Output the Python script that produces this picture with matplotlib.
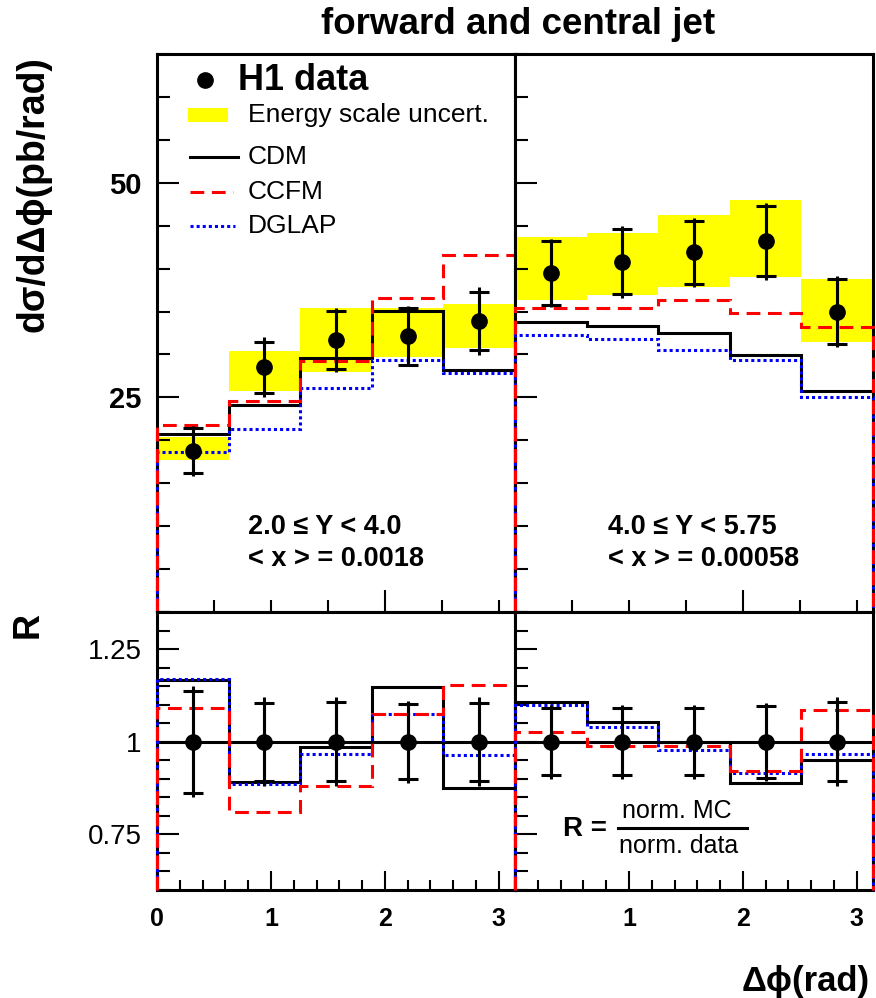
import numpy as np
import matplotlib.pyplot as plt
from matplotlib.patches import Rectangle
from matplotlib.ticker import FixedLocator, MultipleLocator, NullFormatter

plt.rcParams['font.family'] = ['Liberation Sans', 'DejaVu Sans']

# ---------- Data ----------
bin_edges = [0.0, 0.628, 1.257, 1.885, 2.513, 3.1416]

# 2.0 <= Y < 4.0
data_lo = [18.8, 28.5, 31.7, 32.1, 33.9]
stat_lo = [2.6, 3.0, 3.4, 3.3, 3.4]
tot_lo = [2.9, 3.5, 3.7, 3.5, 4.0]
esc_up_lo = [20.4, 30.4, 35.4, 35.4, 35.9]
esc_dn_lo = [17.7, 25.7, 28.0, 29.7, 30.7]
cdm_lo = [20.7, 24.1, 29.6, 35.1, 28.2]
ccfm_lo = [21.8, 24.6, 29.2, 36.6, 41.6]
dglap_lo = [18.6, 21.3, 26.1, 29.4, 27.8]

# 4.0 <= Y < 5.75
data_hi = [39.5, 40.8, 41.9, 43.2, 35.0]
stat_hi = [3.7, 3.8, 3.7, 4.1, 3.8]
tot_hi = [4.0, 4.2, 4.0, 4.5, 4.1]
esc_up_hi = [43.7, 44.1, 46.3, 48.0, 38.8]
esc_dn_hi = [36.3, 36.9, 37.9, 39.0, 31.4]
cdm_hi = [33.8, 33.3, 32.5, 29.9, 25.7]
ccfm_hi = [35.4, 35.4, 36.4, 34.8, 33.2]
dglap_hi = [32.3, 31.8, 30.5, 29.3, 25.1]

# ratios R = norm. MC / norm. data
r_cdm_lo = [1.167, 0.892, 0.985, 1.149, 0.874]
r_ccfm_lo = [1.090, 0.810, 0.880, 1.074, 1.152]
r_dglap_lo = [1.170, 0.885, 0.968, 1.074, 0.964]
r_stat_lo = [0.138, 0.105, 0.107, 0.101, 0.105]
r_tot_lo = [0.150, 0.120, 0.120, 0.110, 0.120]

r_cdm_hi = [1.107, 1.054, 1.000, 0.889, 0.952]
r_ccfm_hi = [1.025, 0.989, 0.989, 0.921, 1.086]
r_dglap_hi = [1.099, 1.039, 0.979, 0.916, 0.968]
r_stat_hi = [0.090, 0.090, 0.090, 0.097, 0.107]
r_tot_hi = [0.100, 0.100, 0.100, 0.105, 0.120]

edges = np.array(bin_edges)
centers = 0.5 * (edges[1:] + edges[:-1])
widths = np.diff(edges)

LW = 2.2
DASH = (0, (4.5, 2.5))
DOT = (0, (1.0, 1.0))


def draw_models(ax, cdm, ccfm, dglap, base):
    ax.stairs(cdm, edges, baseline=base, color='black', lw=LW, zorder=3, clip_on=False)
    ax.stairs(dglap, edges, baseline=base, color='blue', lw=LW, ls=DOT, zorder=3.1, clip_on=False)
    ax.stairs(ccfm, edges, baseline=base, color='red', lw=LW, ls=DASH, zorder=3.2, clip_on=False)


def draw_points(ax, y, stat, tot):
    y = np.asarray(y)
    tot = np.asarray(tot)
    ax.vlines(centers, y - tot, y + tot, color='black', lw=LW, zorder=4)
    ax.errorbar(centers, y, yerr=stat, fmt='o', color='black', ms=11,
                capsize=7, capthick=LW, elinewidth=LW, zorder=5)


def style_axis(ax):
    for s in ax.spines.values():
        s.set_linewidth(LW)
    ax.tick_params(which='both', direction='in', width=1.5,
                   top=False, right=False)
    ax.tick_params(which='major', length=16)
    ax.tick_params(which='minor', length=9)
    ax.set_xlim(0, np.pi)


fig = plt.figure(figsize=(8.76, 9.98), dpi=100)
W, H = 876, 998


def pos(x0, y0, x1, y1):
    return [x0 / W, 1 - y1 / H, (x1 - x0) / W, (y1 - y0) / H]


ax_tl = fig.add_axes(pos(157, 54, 515, 612))
ax_tr = fig.add_axes(pos(515, 54, 873, 612))
ax_bl = fig.add_axes(pos(157, 612, 515, 890))
ax_br = fig.add_axes(pos(515, 612, 873, 890))

# ---------- top panels ----------
for ax, d, st, tt, up, dn, c1, c2, c3 in [
        (ax_tl, data_lo, stat_lo, tot_lo, esc_up_lo, esc_dn_lo, cdm_lo, ccfm_lo, dglap_lo),
        (ax_tr, data_hi, stat_hi, tot_hi, esc_up_hi, esc_dn_hi, cdm_hi, ccfm_hi, dglap_hi)]:
    style_axis(ax)
    ax.set_ylim(0, 65)
    ax.bar(centers, np.array(up) - np.array(dn), bottom=dn, width=widths,
           color='#ffff00', linewidth=0, zorder=1)
    draw_models(ax, c1, c2, c3, 0)
    draw_points(ax, d, st, tt)
    ax.xaxis.set_major_locator(FixedLocator([2.0]))
    ax.xaxis.set_minor_locator(FixedLocator([0.5, 1.0, 1.5, 2.5, 3.0]))
    ax.xaxis.set_major_formatter(NullFormatter())
    ax.yaxis.set_major_locator(FixedLocator([25, 50]))
    ax.yaxis.set_minor_locator(MultipleLocator(5))

ax_tl.tick_params(axis='y', labelsize=21, pad=11)
for t in ax_tl.get_yticklabels():
    t.set_fontweight('bold')
ax_tr.yaxis.set_major_formatter(NullFormatter())

# ---------- ratio panels ----------
for ax, rs, rt, c1, c2, c3 in [
        (ax_bl, r_stat_lo, r_tot_lo, r_cdm_lo, r_ccfm_lo, r_dglap_lo),
        (ax_br, r_stat_hi, r_tot_hi, r_cdm_hi, r_ccfm_hi, r_dglap_hi)]:
    style_axis(ax)
    ax.set_ylim(0.6, 1.35)
    ax.axhline(1.0, color='black', lw=LW, zorder=2.9)
    draw_models(ax, c1, c2, c3, 0.6)
    draw_points(ax, np.ones(len(centers)), rs, rt)
    ax.xaxis.set_minor_locator(MultipleLocator(0.2))
    ax.yaxis.set_major_locator(FixedLocator([0.75, 1.0, 1.25]))
    ax.yaxis.set_minor_locator(MultipleLocator(0.05))
    ax.tick_params(axis='x', which='major', length=14)
    ax.tick_params(axis='x', which='minor', length=7)

ax_bl.xaxis.set_major_locator(FixedLocator([0, 1, 2, 3]))
ax_bl.set_xticklabels(['0', '1', '2', '3'])
ax_br.xaxis.set_major_locator(FixedLocator([1, 2, 3]))
ax_br.set_xticklabels(['1', '2', '3'])
for ax in (ax_bl, ax_br):
    ax.tick_params(axis='x', labelsize=18, pad=12)
    for t in ax.get_xticklabels():
        t.set_fontweight('bold')
ax_bl.set_yticks([0.75, 1.0, 1.25])
ax_bl.set_yticklabels(['0.75', '1', '1.25'])
ax_bl.tick_params(axis='y', labelsize=20, pad=11)
ax_br.yaxis.set_major_formatter(NullFormatter())

# ---------- legend (top-left panel) ----------
ta = ax_tl.transAxes
ax_tl.plot([0.134], [0.953], 'o', color='black', ms=11, transform=ta, clip_on=False)
ax_tl.text(0.226, 0.953, 'H1 data', transform=ta, fontsize=26, fontweight='bold', va='center')
ax_tl.add_patch(Rectangle((0.087, 0.878), 0.111, 0.025, transform=ta,
                          color='#ffff00', lw=0))
ax_tl.text(0.254, 0.891, 'Energy scale uncert.', transform=ta, fontsize=19, va='center')
ax_tl.plot([0.092, 0.226], [0.815, 0.815], color='black', lw=LW, transform=ta)
ax_tl.text(0.254, 0.815, 'CDM', transform=ta, fontsize=19, va='center')
ax_tl.plot([0.092, 0.212], [0.753, 0.753], color='red', lw=LW, ls=DASH, transform=ta)
ax_tl.text(0.254, 0.753, 'CCFM', transform=ta, fontsize=19, va='center')
ax_tl.plot([0.092, 0.218], [0.692, 0.692], color='blue', lw=LW, ls=DOT, transform=ta)
ax_tl.text(0.254, 0.692, 'DGLAP', transform=ta, fontsize=19, va='center')

# ---------- panel annotations ----------
ax_tl.text(0.254, 0.152, '2.0 ≤ Y < 4.0', transform=ta, fontsize=19.5, fontweight='bold', va='center')
ax_tl.text(0.254, 0.095, '< x > = 0.0018', transform=ta, fontsize=19.5, fontweight='bold', va='center')
tb = ax_tr.transAxes
ax_tr.text(0.260, 0.152, '4.0 ≤ Y < 5.75', transform=tb, fontsize=19.5, fontweight='bold', va='center')
ax_tr.text(0.260, 0.095, '< x > = 0.00058', transform=tb, fontsize=19.5, fontweight='bold', va='center')

tr = ax_br.transAxes
ax_br.text(0.134, 0.219, 'R =', transform=tr, fontsize=20, fontweight='bold', va='center')
ax_br.plot([0.288, 0.648], [0.223, 0.223], color='black', lw=LW, transform=tr)
ax_br.text(0.452, 0.284, 'norm. MC', transform=tr, fontsize=18, ha='center', va='center')
ax_br.text(0.458, 0.158, 'norm. data', transform=tr, fontsize=18, ha='center', va='center')

# ---------- titles / axis labels ----------
fig.text(518 / W, 1 - 25 / H, 'forward and central jet', ha='center', va='center',
         fontsize=26.5, fontweight='bold')
fig.text(34 / W, 1 - 194 / H, 'dσ/dΔϕ(pb/rad)', rotation=90, ha='center', va='center',
         fontsize=27, fontweight='bold')
fig.text(28 / W, 1 - 625 / H, 'R', rotation=90, ha='center', va='center',
         fontsize=26, fontweight='bold')
fig.text(870 / W, 1 - 982 / H, 'Δϕ(rad)', ha='right', va='center',
         fontsize=25, fontweight='bold')

fig.savefig('out.png', dpi=100)
